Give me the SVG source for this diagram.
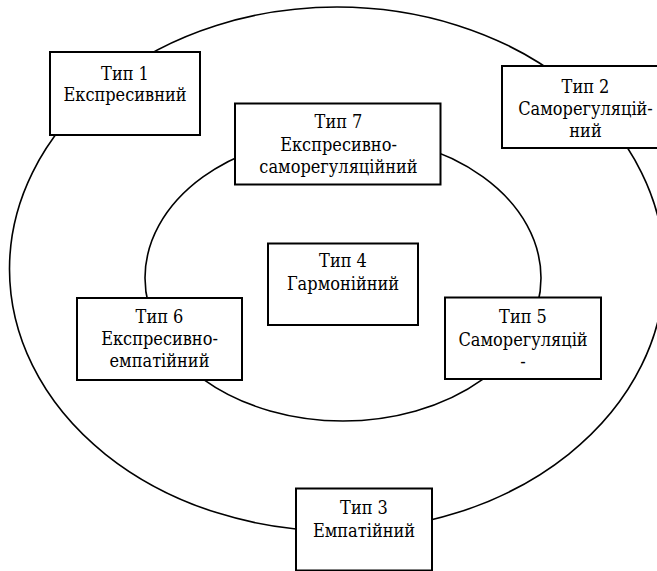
<svg xmlns="http://www.w3.org/2000/svg" width="657" height="571" viewBox="0 0 657 571">
<style>
.ring{fill:none;stroke:#000;stroke-width:1.6}
.box{fill:#fff;stroke:#000;stroke-width:2}
.t{font-family:'DejaVu Serif Condensed','DejaVu Serif',serif;font-size:18px;fill:#000;text-anchor:middle}
</style>
<rect width="657" height="571" fill="#fff"/>
<g id="connectors">
<ellipse class="ring" cx="337" cy="269" rx="327.5" ry="262"/>
<ellipse class="ring" cx="343" cy="278" rx="198" ry="143"/>
</g>
<g id="type1">
<rect class="box" x="50" y="52" width="150" height="83"/>
<text class="t" x="125" y="79.5">Тип 1</text>
<text class="t" x="125" y="101">Експресивний</text>
</g>
<g id="type2">
<rect class="box" x="502" y="66" width="168" height="82"/>
<text class="t" x="585.5" y="92.5">Тип 2</text>
<text class="t" x="585.5" y="114.5">Саморегуляцій-</text>
<text class="t" x="585.5" y="137">ний</text>
</g>
<g id="type7">
<rect class="box" x="235" y="103.5" width="205.5" height="81"/>
<text class="t" x="338.5" y="128.3">Тип 7</text>
<text class="t" x="338.5" y="150.7">Експресивно-</text>
<text class="t" x="338.5" y="173.3">саморегуляційний</text>
</g>
<g id="type4">
<rect class="box" x="268" y="243.5" width="150" height="81.5"/>
<text class="t" x="343" y="267.3">Тип 4</text>
<text class="t" x="343" y="290">Гармонійний</text>
</g>
<g id="type6">
<rect class="box" x="77" y="298" width="165" height="82"/>
<text class="t" x="159.5" y="322.7">Тип 6</text>
<text class="t" x="159.5" y="345">Експресивно-</text>
<text class="t" x="159.5" y="367.3">емпатійний</text>
</g>
<g id="type5">
<rect class="box" x="445" y="297.5" width="156" height="81.5"/>
<text class="t" x="523" y="322.7">Тип 5</text>
<text class="t" x="523" y="345.7">Саморегуляцій</text>
<text class="t" x="523" y="368">-</text>
</g>
<g id="type3">
<rect class="box" x="296" y="488.5" width="136" height="82"/>
<text class="t" x="364" y="514">Тип 3</text>
<text class="t" x="364" y="536.7">Емпатійний</text>
</g>
</svg>
